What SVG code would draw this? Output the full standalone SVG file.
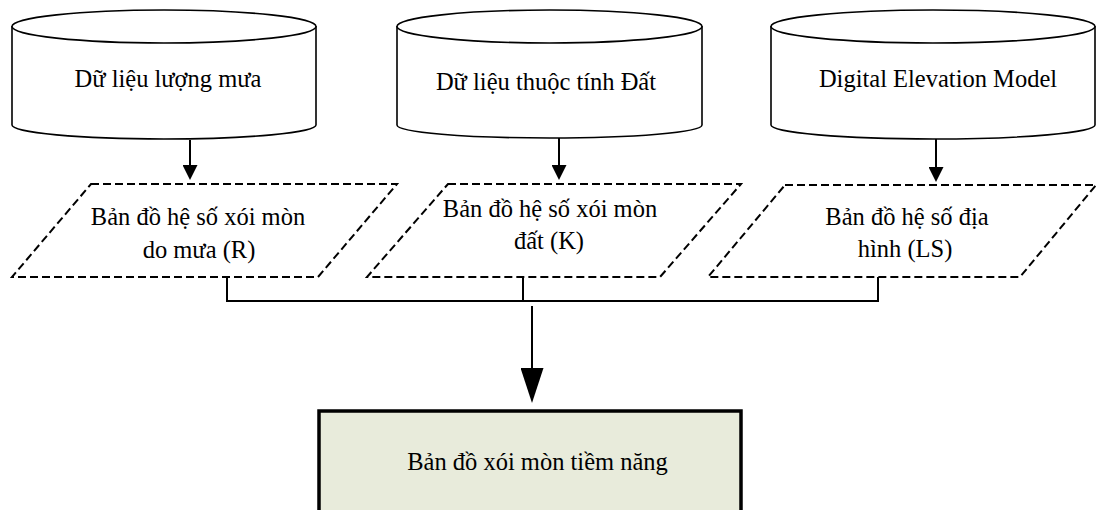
<svg xmlns="http://www.w3.org/2000/svg" width="1097" height="510" viewBox="0 0 1097 510">
  <style>
    .cyl { fill: #ffffff; stroke: #000000; stroke-width: 1.6; }
    .para { fill: #ffffff; stroke: #000000; stroke-width: 2; stroke-dasharray: 8 4; }
    .conn { fill: none; stroke: #000000; stroke-width: 2; }
    .result { fill: #e8ebdb; stroke: #000000; stroke-width: 3.5; }
    text { font-family: 'Liberation Serif', 'DejaVu Serif', serif; font-size: 24.5px; fill: #000000; text-anchor: middle; }
  </style>
  <defs>
    <marker id="arrowSmall" markerUnits="userSpaceOnUse" viewBox="0 0 15 15" markerWidth="15" markerHeight="15" refX="11" refY="7.5" orient="auto">
      <path d="M0,0 L15,7.5 L0,15 z" fill="#000000"/>
    </marker>
    <marker id="arrowBig" markerUnits="userSpaceOnUse" viewBox="0 0 35 23" markerWidth="35" markerHeight="23" refX="30" refY="11.5" orient="auto">
      <path d="M0,0 L35,11.5 L0,23 z" fill="#000000"/>
    </marker>
  </defs>

  <g id="rainfall-data">
    <path class="cyl" d="M12,26 V125 A152,14 0 0 0 316,125 V26"/>
    <ellipse class="cyl" cx="164" cy="26.5" rx="152" ry="16.5"/>
    <text x="168" y="87" font-family="Liberation Serif, serif">Dữ liệu lượng mưa</text>
  </g>

  <g id="soil-data">
    <path class="cyl" d="M397,26 V125 A152.5,13 0 0 0 702,125 V26"/>
    <ellipse class="cyl" cx="549.5" cy="26.5" rx="152.5" ry="16.5"/>
    <text x="546" y="90" font-family="Liberation Serif, serif">Dữ liệu thuộc tính Đất</text>
  </g>

  <g id="dem-data">
    <path class="cyl" d="M771,26 V125 A162,14 0 0 0 1095,125 V26"/>
    <ellipse class="cyl" cx="933" cy="26.5" rx="162" ry="16.5"/>
    <text x="938" y="87" font-family="Liberation Serif, serif">Digital Elevation Model</text>
  </g>

  <g id="r-factor">
    <polygon class="para" points="91,184 397,184 318,277 12,277"/>
    <text x="198" y="225" font-family="Liberation Serif, serif">Bản đồ hệ số xói mòn</text>
    <text x="199" y="258" font-family="Liberation Serif, serif">do mưa (R)</text>
  </g>

  <g id="k-factor">
    <polygon class="para" points="448,184 741,184 660,277 367,277"/>
    <text x="550" y="217" font-family="Liberation Serif, serif">Bản đồ hệ số xói mòn</text>
    <text x="549" y="249" font-family="Liberation Serif, serif">đất (K)</text>
  </g>

  <g id="ls-factor">
    <polygon class="para" points="785,185 1096,185 1020,277 708,277"/>
    <text x="907" y="225" font-family="Liberation Serif, serif">Bản đồ hệ số địa</text>
    <text x="905" y="257" font-family="Liberation Serif, serif">hình (LS)</text>
  </g>

  <g id="potential-erosion">
    <rect class="result" x="319" y="411" width="422" height="130"/>
    <text x="537.5" y="470" font-family="Liberation Serif, serif">Bản đồ xói mòn tiềm năng</text>
  </g>

  <g id="connectors">
    <line class="conn" x1="190" y1="140" x2="190" y2="176" marker-end="url(#arrowSmall)"/>
    <line class="conn" x1="559" y1="138" x2="559" y2="176" marker-end="url(#arrowSmall)"/>
    <line class="conn" x1="936" y1="139" x2="936" y2="178" marker-end="url(#arrowSmall)"/>
    <line class="conn" x1="227" y1="277" x2="227" y2="301"/>
    <line class="conn" x1="523" y1="277" x2="523" y2="301"/>
    <line class="conn" x1="878" y1="277" x2="878" y2="301"/>
    <line class="conn" x1="226" y1="301" x2="879" y2="301"/>
    <line class="conn" x1="532" y1="306" x2="532" y2="398" marker-end="url(#arrowBig)"/>
  </g>
</svg>
